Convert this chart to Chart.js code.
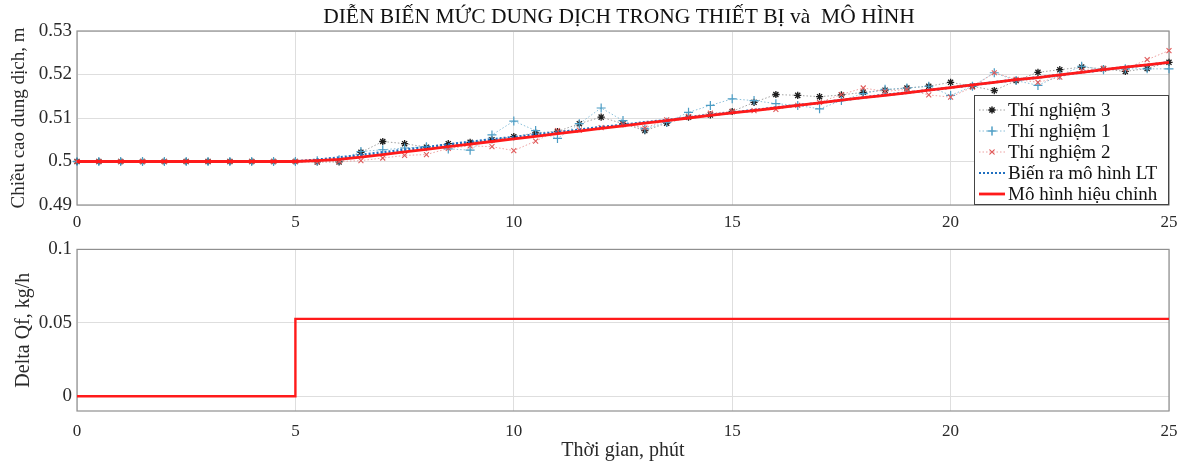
<!DOCTYPE html>
<html>
<head>
<meta charset="utf-8">
<script src="https://cdn.jsdelivr.net/npm/chart.js@4/dist/chart.umd.min.js"></script>
<style>
    body { margin: 0; background: #fff; }
    #wrap { position: relative; width: 1185px; height: 463px; }
    #top-box { position: absolute; left: 0; top: 0; }
    #bottom-box { position: absolute; left: 0; top: 233px; }
</style>
</head>
<body>
<div id="wrap">
    <div id="top-box"><canvas id="levelChart" width="1185" height="233"></canvas></div>
    <div id="bottom-box"><canvas id="flowChart" width="1185" height="230"></canvas></div>
</div>
<script>
// thoi gian, phut (moi 0.5 phut)
let times = [0, 0.5, 1, 1.5, 2, 2.5, 3, 3.5, 4, 4.5, 5, 5.5, 6, 6.5, 7, 7.5, 8, 8.5, 9, 9.5,
    10, 10.5, 11, 11.5, 12, 12.5, 13, 13.5, 14, 14.5, 15, 15.5, 16, 16.5, 17, 17.5, 18, 18.5, 19, 19.5,
    20, 20.5, 21, 21.5, 22, 22.5, 23, 23.5, 24, 24.5, 25];

let thiNghiem3 = [0.5, 0.5, 0.5, 0.5, 0.5, 0.5, 0.5, 0.5, 0.5, 0.5, 0.5,
    0.4999, 0.4999, 0.5021, 0.5046, 0.5041, 0.5033, 0.5041, 0.5044, 0.5050,
    0.5057, 0.5066, 0.5069, 0.5087, 0.5102, 0.5087, 0.5071, 0.5088, 0.5102, 0.5107,
    0.5115, 0.5136, 0.5154, 0.5152, 0.5149, 0.5153, 0.5159, 0.5164, 0.5169, 0.5173,
    0.5182, 0.5173, 0.5163, 0.5186, 0.5205, 0.5211, 0.5217, 0.5213, 0.5207, 0.5214, 0.5228];

let thiNghiem1 = [0.5, 0.5, 0.5, 0.5, 0.5, 0.5, 0.5, 0.5, 0.5, 0.5, 0.5,
    0.5002, 0.5004, 0.5023, 0.5027, 0.5031, 0.5034, 0.5029, 0.5026, 0.5061,
    0.5093, 0.5071, 0.5053, 0.5087, 0.5123, 0.5094, 0.5075, 0.5090, 0.5113, 0.5129,
    0.5144, 0.5140, 0.5133, 0.5129, 0.5121, 0.5140, 0.5156, 0.5166, 0.5169, 0.5173,
    0.5152, 0.5173, 0.5204, 0.5186, 0.5175, 0.5198, 0.5219, 0.5211, 0.5213, 0.5213, 0.5213];

let thiNghiem2 = [0.5, 0.5, 0.5, 0.5, 0.5, 0.5, 0.5, 0.5, 0.5, 0.5, 0.5,
    0.4999, 0.5000, 0.5002, 0.5008, 0.5014, 0.5016, 0.5030, 0.5036, 0.5034,
    0.5025, 0.5047, 0.5071, 0.5072, 0.5078, 0.5085, 0.5077, 0.5096, 0.5103, 0.5111,
    0.5115, 0.5117, 0.5120, 0.5129, 0.5136, 0.5154, 0.5169, 0.5161, 0.5166, 0.5153,
    0.5148, 0.5171, 0.5204, 0.5189, 0.5182, 0.5194, 0.5209, 0.5214, 0.5213, 0.5234, 0.5255];

let moHinhLT = [0.5, 0.5, 0.5, 0.5, 0.5, 0.5, 0.5, 0.5, 0.5, 0.5, 0.5,
    0.5004, 0.5009, 0.5015, 0.5021, 0.5027, 0.5033, 0.5039, 0.5045, 0.5051,
    0.5056, 0.5062, 0.5067, 0.5073, 0.5079, 0.5084, 0.5090, 0.5095, 0.5101, 0.5107,
    0.5112, 0.5118, 0.5124, 0.5129, 0.5135, 0.5141, 0.5147, 0.5153, 0.5158, 0.5164,
    0.5170, 0.5176, 0.5182, 0.5188, 0.5193, 0.5199, 0.5205, 0.5211, 0.5217, 0.5222, 0.5228];

let moHinhHieuChinh = [0.5, 0.5, 0.5, 0.5, 0.5, 0.5, 0.5, 0.5, 0.5, 0.5, 0.5,
    0.5002, 0.5005, 0.5010, 0.5016, 0.5022, 0.5028, 0.5034, 0.5040, 0.5046,
    0.5052, 0.5058, 0.5064, 0.5070, 0.5076, 0.5082, 0.5088, 0.5094, 0.5100, 0.5106,
    0.5112, 0.5117, 0.5123, 0.5129, 0.5135, 0.5141, 0.5147, 0.5152, 0.5158, 0.5164,
    0.5170, 0.5176, 0.5182, 0.5188, 0.5193, 0.5199, 0.5205, 0.5211, 0.5217, 0.5222, 0.5228];

// buoc nhay luu luong
let stepTimes = [0, 5, 25];
let stepValues = [0, 0.0527, 0.0527];

let xTicks = [0, 5, 10, 15, 20, 25];
let yTicksTop = [0.49, 0.5, 0.51, 0.52, 0.53];
let yTicksBottom = [0, 0.05, 0.1];

const chartTitle = 'DIỄN BIẾN MỨC DUNG DỊCH TRONG THIẾT BỊ và  MÔ HÌNH';
const serif = 'Liberation Serif';
const textColor = '#2a2a2a';
const gridColor = '#dedede';


function toPoints(xs, ys) {
    let pts = [];
    for (let i = 0; i < xs.length; i++) {
        pts.push({ x: xs[i], y: ys[i] });
    }
    return pts;
}


function fixedTicks(values) {
    return function (scale) {
        scale.ticks = values.map(v => ({ value: v }));
    };
}


function formatTick(value) {
    return String(+value.toFixed(3));
}


const framePlugin = {
    id: 'frame',
    beforeDatasetsDraw(chart) {
        const a = chart.chartArea;
        const ctx = chart.ctx;
        ctx.save();
        ctx.strokeStyle = '#8f8f8f';
        ctx.lineWidth = 1.2;
        ctx.strokeRect(a.left, a.top, a.right - a.left, a.bottom - a.top);
        ctx.restore();
    }
};


const topTitlePlugin = {
    id: 'topTitle',
    afterDraw(chart) {
        const a = chart.chartArea;
        const ctx = chart.ctx;
        ctx.save();
        ctx.font = '21.5px "' + serif + '"';
        ctx.fillStyle = '#111';
        ctx.textAlign = 'center';
        ctx.textBaseline = 'middle';
        ctx.fillText(chartTitle, (a.left + a.right) / 2 - 4, 17);
        ctx.restore();
    }
};


const boxLegendPlugin = {
    id: 'boxLegend',
    afterDraw(chart) {
        const a = chart.chartArea;
        const ctx = chart.ctx;
        const w = 195, h = 110;
        const left = a.right - w, top = a.bottom - h;
        ctx.save();
        ctx.fillStyle = '#fff';
        ctx.fillRect(left, top, w, h);
        ctx.strokeStyle = '#444';
        ctx.lineWidth = 1;
        ctx.strokeRect(left + 0.5, top + 0.5, w - 1, h - 1);
        ctx.font = '19px "' + serif + '"';
        ctx.textBaseline = 'middle';
        chart.data.datasets.forEach((ds, i) => {
            const y = top + 15 + i * 21;
            const x0 = left + 5, x1 = left + 31;
            ctx.strokeStyle = ds.borderColor;
            ctx.lineWidth = ds.legendLineWidth || ds.borderWidth;
            ctx.setLineDash(ds.borderDash || []);
            ctx.beginPath();
            ctx.moveTo(x0, y);
            ctx.lineTo(x1, y);
            ctx.stroke();
            ctx.setLineDash([]);
            if (ds.pointRadius > 0) {
                Chart.helpers.drawPoint(ctx, {
                    pointStyle: ds.pointStyle,
                    radius: ds.pointRadius,
                    borderWidth: ds.pointBorderWidth
                }, (x0 + x1) / 2, y);
                ctx.strokeStyle = ds.pointBorderColor;
                ctx.lineWidth = ds.pointBorderWidth;
                ctx.stroke();
            }
            ctx.fillStyle = '#111';
            ctx.fillText(ds.label, x1 + 3, y + 1);
        });
        ctx.restore();
    }
};


function getLevelData() {
    return {
        datasets: [
            {
                label: 'Thí nghiệm 3',
                data: toPoints(times, thiNghiem3),
                borderColor: '#8a8a8a',
                borderWidth: 0.8,
                borderDash: [1.5, 2],
                pointStyle: 'star',
                pointRadius: 3.6,
                pointBorderWidth: 1.3,
                pointBorderColor: '#1e1e1e',
                pointBackgroundColor: '#1e1e1e',
                order: 4
            },
            {
                label: 'Thí nghiệm 1',
                data: toPoints(times, thiNghiem1),
                borderColor: '#6fb0d0',
                borderWidth: 0.8,
                borderDash: [1.5, 2],
                pointStyle: 'cross',
                pointRadius: 4.5,
                pointBorderWidth: 1.2,
                pointBorderColor: '#4a9cc4',
                pointBackgroundColor: '#4a9cc4',
                order: 3
            },
            {
                label: 'Thí nghiệm 2',
                data: toPoints(times, thiNghiem2),
                borderColor: '#e88a8a',
                borderWidth: 0.8,
                borderDash: [1.5, 2],
                pointStyle: 'crossRot',
                pointRadius: 3.5,
                pointBorderWidth: 1.1,
                pointBorderColor: '#e05a5a',
                pointBackgroundColor: '#e05a5a',
                order: 2
            },
            {
                label: 'Biến ra mô hình LT',
                data: toPoints(times, moHinhLT),
                borderColor: '#1f6fc0',
                borderWidth: 2.6,
                legendLineWidth: 2.2,
                borderDash: [2, 2],
                pointRadius: 0,
                order: 1
            },
            {
                label: 'Mô hình hiệu chỉnh',
                data: toPoints(times, moHinhHieuChinh),
                borderColor: '#ff1a1a',
                borderWidth: 2.8,
                pointRadius: 0,
                order: 0
            }
        ]
    };
}


function xScale(withTitle, height, tickGap) {
    let scale = {
        type: 'linear',
        min: 0,
        max: 25,
        afterBuildTicks: fixedTicks(xTicks),
        afterFit: s => { s.height = height; },
        ticks: {
            font: { family: serif, size: 17 },
            color: textColor,
            padding: 7,
            maxRotation: 0,
            callback: formatTick
        },
        grid: {
            color: gridColor,
            drawTicks: tickGap > 0,
            tickLength: tickGap,
            tickColor: 'rgba(0,0,0,0)'
        },
        border: { display: false }
    };
    if (withTitle) {
        scale.title = {
            display: true,
            text: 'Thời gian, phút',
            font: { family: serif, size: 20 },
            color: textColor,
            padding: { top: 0, bottom: 0 }
        };
    }
    return scale;
}


function yScale(min, max, ticks, title, titleSize, titleOffset) {
    return {
        min: min,
        max: max,
        afterBuildTicks: fixedTicks(ticks),
        afterFit: s => { s.width = 77; },
        ticks: {
            font: { family: serif, size: 19 },
            color: textColor,
            padding: 5,
            callback: formatTick
        },
        grid: { color: gridColor, drawTicks: false },
        border: { display: false },
        title: {
            display: true,
            text: title,
            font: { family: serif, size: titleSize },
            color: textColor,
            padding: { top: titleOffset, bottom: 0 }
        }
    };
}


function renderLevelChart() {
    const ctx = document.getElementById('levelChart');
    new Chart(ctx, {
        type: 'line',
        data: getLevelData(),
        options: {
            responsive: false,
            animation: false,
            devicePixelRatio: 1,
            clip: 5,
            layout: { padding: { left: 0, right: 16, top: 31, bottom: 0 } },
            plugins: {
                legend: { display: false },
                tooltip: { enabled: false },
                title: { display: false }
            },
            scales: {
                x: xScale(false, 28, 0),
                y: yScale(0.49, 0.53, yTicksTop, 'Chiều cao dung dịch, m', 19, 8)
            }
        },
        plugins: [framePlugin, boxLegendPlugin, topTitlePlugin]
    });
}


function renderFlowChart() {
    const ctx = document.getElementById('flowChart');
    new Chart(ctx, {
        type: 'line',
        data: {
            datasets: [{
                label: 'Delta Qf',
                data: toPoints(stepTimes, stepValues),
                stepped: 'before',
                borderColor: '#ff1a1a',
                borderWidth: 2.4,
                pointRadius: 0
            }]
        },
        options: {
            responsive: false,
            animation: false,
            devicePixelRatio: 1,
            layout: { padding: { left: 0, right: 16, top: 12, bottom: 0 } },
            plugins: {
                legend: { display: false },
                tooltip: { enabled: false }
            },
            scales: {
                x: xScale(true, 52, 3),
                y: yScale(-0.01, 0.1, yTicksBottom, 'Delta Qf, kg/h', 20, 12)
            }
        },
        plugins: [framePlugin]
    });
}


renderLevelChart();
renderFlowChart();
</script>
</body>
</html>
